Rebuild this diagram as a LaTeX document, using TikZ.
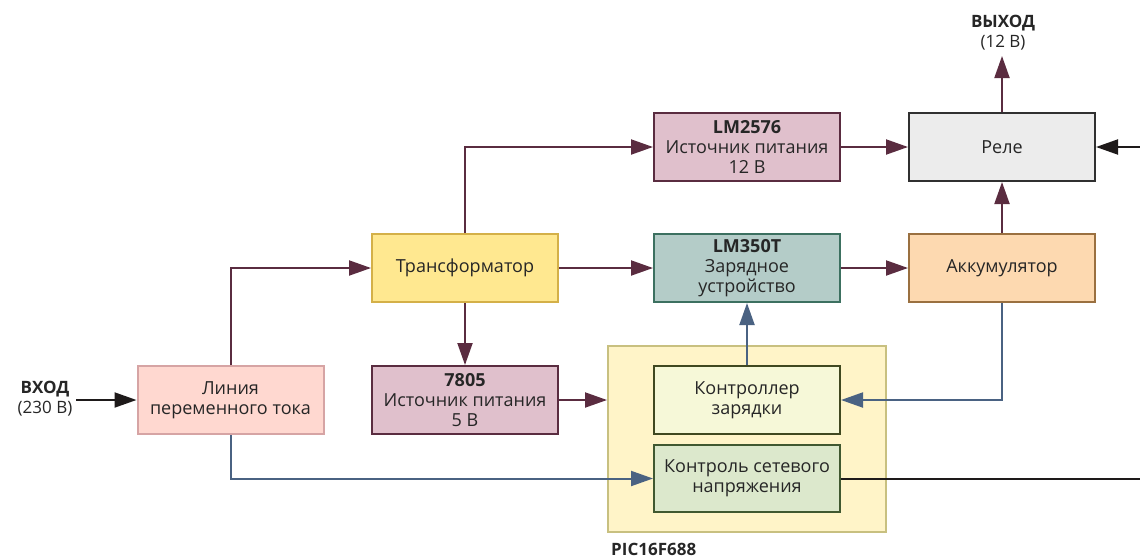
\documentclass[tikz,border=0pt]{standalone}
\usepackage{fontspec}
\setmainfont{Open Sans}
\usetikzlibrary{arrows.meta}
\definecolor{maroon}{HTML}{5A2C40}
\definecolor{bluegray}{HTML}{4A6282}
\definecolor{darkline}{HTML}{1E1A1A}
\tikzset{
  blk/.style={draw, line width=2pt, minimum width=186pt, minimum height=68pt, inner sep=0pt, align=center, font=\fontsize{18}{20}\selectfont, text=black!85},
  tip/.style={-{Triangle[length=22pt,width=15pt]}},
  mconn/.style={tip, draw=maroon, line width=2pt},
  bconn/.style={tip, draw=bluegray, line width=2pt},
  kconn/.style={draw=darkline, line width=2pt},
  lbl/.style={inner sep=0pt, align=center, font=\fontsize{17}{20}\selectfont, text=black!85}
}
\begin{document}
\begin{tikzpicture}[x=1pt,y=-1pt]
\path[use as bounding box] (0,0) rectangle (1140,558);
% PIC box
\node[draw={rgb,255:red,200;green,192;blue,128}, fill={rgb,255:red,255;green,244;blue,200}, line width=2pt, minimum width=278pt, minimum height=186pt, inner sep=0pt] (pic) at (747,439) {};
\node[lbl, anchor=west, font=\fontsize{17}{20}\selectfont\bfseries] (picl) at (611,549) {PIC16F688};
% blocks
\node[blk, draw={rgb,255:red,214;green,164;blue,164}, fill={rgb,255:red,255;green,216;blue,208}] (ac) at (230.5,400) {Линия\\переменного тока};
\node[blk, draw={rgb,255:red,212;green,176;blue,72}, fill={rgb,255:red,255;green,232;blue,144}] (tr) at (465,268) {Трансформатор};
\node[blk, draw=maroon, fill={rgb,255:red,224;green,192;blue,204}] (lm2576) at (747,147) {\textbf{LM2576}\\Источник питания\\12 В};
\node[blk, draw={rgb,255:red,60;green,112;blue,96}, fill={rgb,255:red,180;green,204;blue,200}] (lm350) at (747,268) {\textbf{LM350T}\\Зарядное\\устройство};
\node[blk, draw={rgb,255:red,48;green,48;blue,48}, fill={rgb,255:red,236;green,236;blue,236}] (rel) at (1002,147) {Реле};
\node[blk, draw={rgb,255:red,154;green,112;blue,64}, fill={rgb,255:red,253;green,217;blue,176}] (bat) at (1002,268) {Аккумулятор};
\node[blk, draw=maroon, fill={rgb,255:red,224;green,192;blue,204}] (v5) at (465,400) {\textbf{7805}\\Источник питания\\5 В};
\node[blk, draw={rgb,255:red,64;green,72;blue,32}, fill={rgb,255:red,246;green,248;blue,216}] (cc) at (747,400) {Контроллер\\зарядки};
\node[blk, minimum height=67pt, draw={rgb,255:red,64;green,88;blue,48}, fill={rgb,255:red,220;green,232;blue,204}] (mc) at (747,478.5) {Контроль сетевого\\напряжения};
% labels
\node[lbl] (inl) at (45,399) {\textbf{ВХОД}\\(230 В)};
\coordinate (inend) at (76,400);
\node[lbl] (outl) at (1003,33) {\textbf{ВЫХОД}\\(12 В)};
\coordinate (outend) at (1002,56);
\coordinate (redge) at (1140,147);
\coordinate (medge) at (1140,478);
% connectors
\draw[tip, kconn] (inend) -- (ac.west);
\draw[mconn] (ac.north) |- (tr.west);
\draw[bconn] (ac.south) |- (mc.west);
\draw[mconn] (tr.north) |- (lm2576.west);
\draw[mconn] (tr.east) -- (lm350.west);
\draw[mconn] (tr.south) -- (v5.north);
\draw[mconn] (v5.east) -- (v5.east -| pic.west);
\draw[mconn] (lm2576.east) -- (rel.west);
\draw[mconn] (lm350.east) -- (bat.west);
\draw[mconn] (bat.north) -- (rel.south);
\draw[mconn] (rel.north) -- (outend);
\draw[bconn] (cc.north) -- (lm350.south);
\draw[bconn] (bat.south) |- (cc.east);
\draw[tip, kconn] (redge) -- (rel.east);
\draw[kconn] (mc.east) -- (mc.east -| medge);
\end{tikzpicture}
\end{document}
